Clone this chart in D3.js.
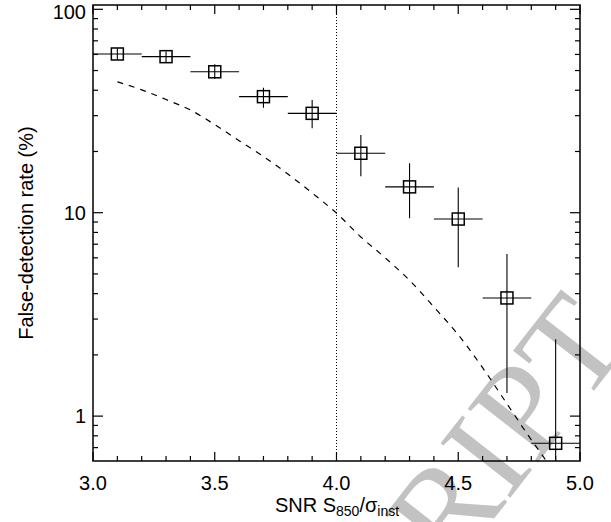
<!DOCTYPE html>
<html><head><meta charset="utf-8">
<script src="https://cdn.jsdelivr.net/npm/d3@7"></script>
<style>body{margin:0;background:#fff}svg{display:block}</style>
</head><body>
<svg id="c" width="611" height="522"></svg>
<script>
// Data
const snrBins = [3.1, 3.3, 3.5, 3.7, 3.9, 4.1, 4.3, 4.5, 4.7, 4.9];
const binHalfWidth = [0.1, 0.1, 0.1, 0.1, 0.1, 0.1, 0.1, 0.1, 0.1, 0.1];
const falseRate = [60.3, 58.5, 49.3, 37.2, 30.8, 19.6, 13.4, 9.31, 3.81, 0.735];
const rateLow  = [56.5, 55.0, 45.4, 32.8, 26.0, 15.1, 9.39, 5.39, 1.30, 0.50];
const rateHigh = [64.3, 62.0, 53.7, 41.2, 35.8, 24.1, 17.5, 13.3, 6.27, 2.39];
const modelX = [3.1, 3.2, 3.3, 3.4, 3.5, 3.6, 3.7, 3.8, 3.9, 4.0, 4.1, 4.2, 4.3, 4.4, 4.5, 4.6, 4.7, 4.8, 4.85, 4.9];
const modelY = [44.0, 40.2, 36.0, 32.0, 27.1, 22.6, 18.9, 15.5, 12.5, 9.95, 7.6, 6.0, 4.65, 3.44, 2.51, 1.73, 1.15, 0.764, 0.63, 0.51];
const xMajorTicks = [3.0, 3.5, 4.0, 4.5, 5.0];
const xTickLabels = ["3.0", "3.5", "4.0", "4.5", "5.0"];
const yMajorTicks = [1, 10, 100];
const yTickLabels = ["1", "10", "100"];
const threshold = [4.0];

const svg = d3.select("#c");
const L = 93, R = 580, T = 5, B = 461;
const x = d3.scaleLinear().domain([3.0, 5.0]).range([L, R]);
const y = d3.scaleLog().domain([0.6016, 105]).range([B, T]);
const font = "'Liberation Sans', Arial, Helvetica, sans-serif";

// watermark (behind)
svg.append("text")
  .attr("transform", "translate(632,342) rotate(-52)")
  .attr("text-anchor", "end")
  .attr("font-family", "'Liberation Serif', 'Times New Roman', serif")
  .attr("font-size", 135)
  .attr("fill", "#c2c2c2")
  .text("ACCEPTED MANUSCRIPT");

svg.append("defs").append("clipPath").attr("id", "clip")
  .append("rect").attr("x", L).attr("y", T).attr("width", R - L).attr("height", B - T);

const g = svg.append("g");
const pg = g.append("g").attr("clip-path", "url(#clip)");

// threshold dotted line
pg.selectAll("line.thr").data(threshold).join("line")
  .attr("x1", d => x(d)).attr("x2", d => x(d)).attr("y1", T).attr("y2", B)
  .attr("stroke", "#000").attr("stroke-width", 1).attr("stroke-dasharray", "1,2");

// model dashed
pg.append("path")
  .datum(modelX.map((d, i) => [d, modelY[i]]))
  .attr("fill", "none").attr("stroke", "#000").attr("stroke-width", 1.2)
  .attr("stroke-dasharray", "6,6")
  .attr("d", d3.line().x(d => x(d[0])).y(d => y(d[1])).curve(d3.curveMonotoneX));

const pts = snrBins.map((d, i) => ({x: d, hw: binHalfWidth[i], y: falseRate[i], lo: rateLow[i], hi: rateHigh[i]}));
// horizontal error bars
pg.selectAll("line.hx").data(pts).join("line")
  .attr("x1", d => x(d.x - d.hw)).attr("x2", d => x(d.x + d.hw))
  .attr("y1", d => y(d.y)).attr("y2", d => y(d.y))
  .attr("stroke", "#000").attr("stroke-width", 1.1);
// vertical error bars
pg.selectAll("line.vy").data(pts).join("line")
  .attr("x1", d => x(d.x)).attr("x2", d => x(d.x))
  .attr("y1", d => y(d.lo)).attr("y2", d => y(d.hi))
  .attr("stroke", "#000").attr("stroke-width", 1.1);
// squares
const S = 12;
pg.selectAll("rect.sq").data(pts).join("rect")
  .attr("x", d => x(d.x) - S / 2).attr("y", d => y(d.y) - S / 2)
  .attr("width", S).attr("height", S)
  .attr("fill", "none").attr("stroke", "#000").attr("stroke-width", 1.5);

// frame
g.append("rect").attr("x", L).attr("y", T).attr("width", R - L).attr("height", B - T)
  .attr("fill", "none").attr("stroke", "#000").attr("stroke-width", 1.5);

// x ticks (minor every 0.1)
const xMinor = d3.range(31, 50).map(v => v / 10).filter(v => !xMajorTicks.some(m => Math.abs(m - v) < 1e-6));
const tickG = g.append("g").attr("stroke", "#000").attr("stroke-width", 1.2);
xMajorTicks.forEach(v => {
  tickG.append("line").attr("x1", x(v)).attr("x2", x(v)).attr("y1", B).attr("y2", B - 9);
  tickG.append("line").attr("x1", x(v)).attr("x2", x(v)).attr("y1", T).attr("y2", T + 9);
});
xMinor.forEach(v => {
  tickG.append("line").attr("x1", x(v)).attr("x2", x(v)).attr("y1", B).attr("y2", B - 5);
  tickG.append("line").attr("x1", x(v)).attr("x2", x(v)).attr("y1", T).attr("y2", T + 5);
});
// y ticks
const yMinor = [];
[0.1, 1, 10].forEach(dec => { for (let k = 2; k <= 9; k++) { const v = dec * k; if (v > 0.6016 && v < 105) yMinor.push(v); } });
yMajorTicks.forEach(v => {
  tickG.append("line").attr("x1", L).attr("x2", L + 10).attr("y1", y(v)).attr("y2", y(v));
  tickG.append("line").attr("x1", R).attr("x2", R - 10).attr("y1", y(v)).attr("y2", y(v));
});
yMinor.forEach(v => {
  tickG.append("line").attr("x1", L).attr("x2", L + 5).attr("y1", y(v)).attr("y2", y(v));
  tickG.append("line").attr("x1", R).attr("x2", R - 5).attr("y1", y(v)).attr("y2", y(v));
});

// tick labels
g.selectAll("text.xl").data(xMajorTicks).join("text")
  .attr("x", d => x(d)).attr("y", 490).attr("text-anchor", "middle")
  .attr("font-family", font).attr("font-size", 20).text((d, i) => xTickLabels[i]);
g.selectAll("text.yl").data(yMajorTicks).join("text")
  .attr("x", 86).attr("y", d => Math.max(y(d) + 7, 19)).attr("text-anchor", "end")
  .attr("font-family", font).attr("font-size", 20).text((d, i) => yTickLabels[i]);

// axis titles
const xt = g.append("text").attr("x", 337).attr("y", 512).attr("text-anchor", "middle")
  .attr("font-family", font).attr("font-size", 20);
xt.append("tspan").text("SNR S");
xt.append("tspan").attr("font-size", 14).attr("dy", 4).text("850");
xt.append("tspan").attr("dy", -4).text("/σ");
xt.append("tspan").attr("font-size", 14).attr("dy", 4).text("inst");

g.append("text").attr("transform", "translate(33,233) rotate(-90)").attr("text-anchor", "middle")
  .attr("font-family", font).attr("font-size", 20).text("False-detection rate (%)");
</script>
</body></html>
